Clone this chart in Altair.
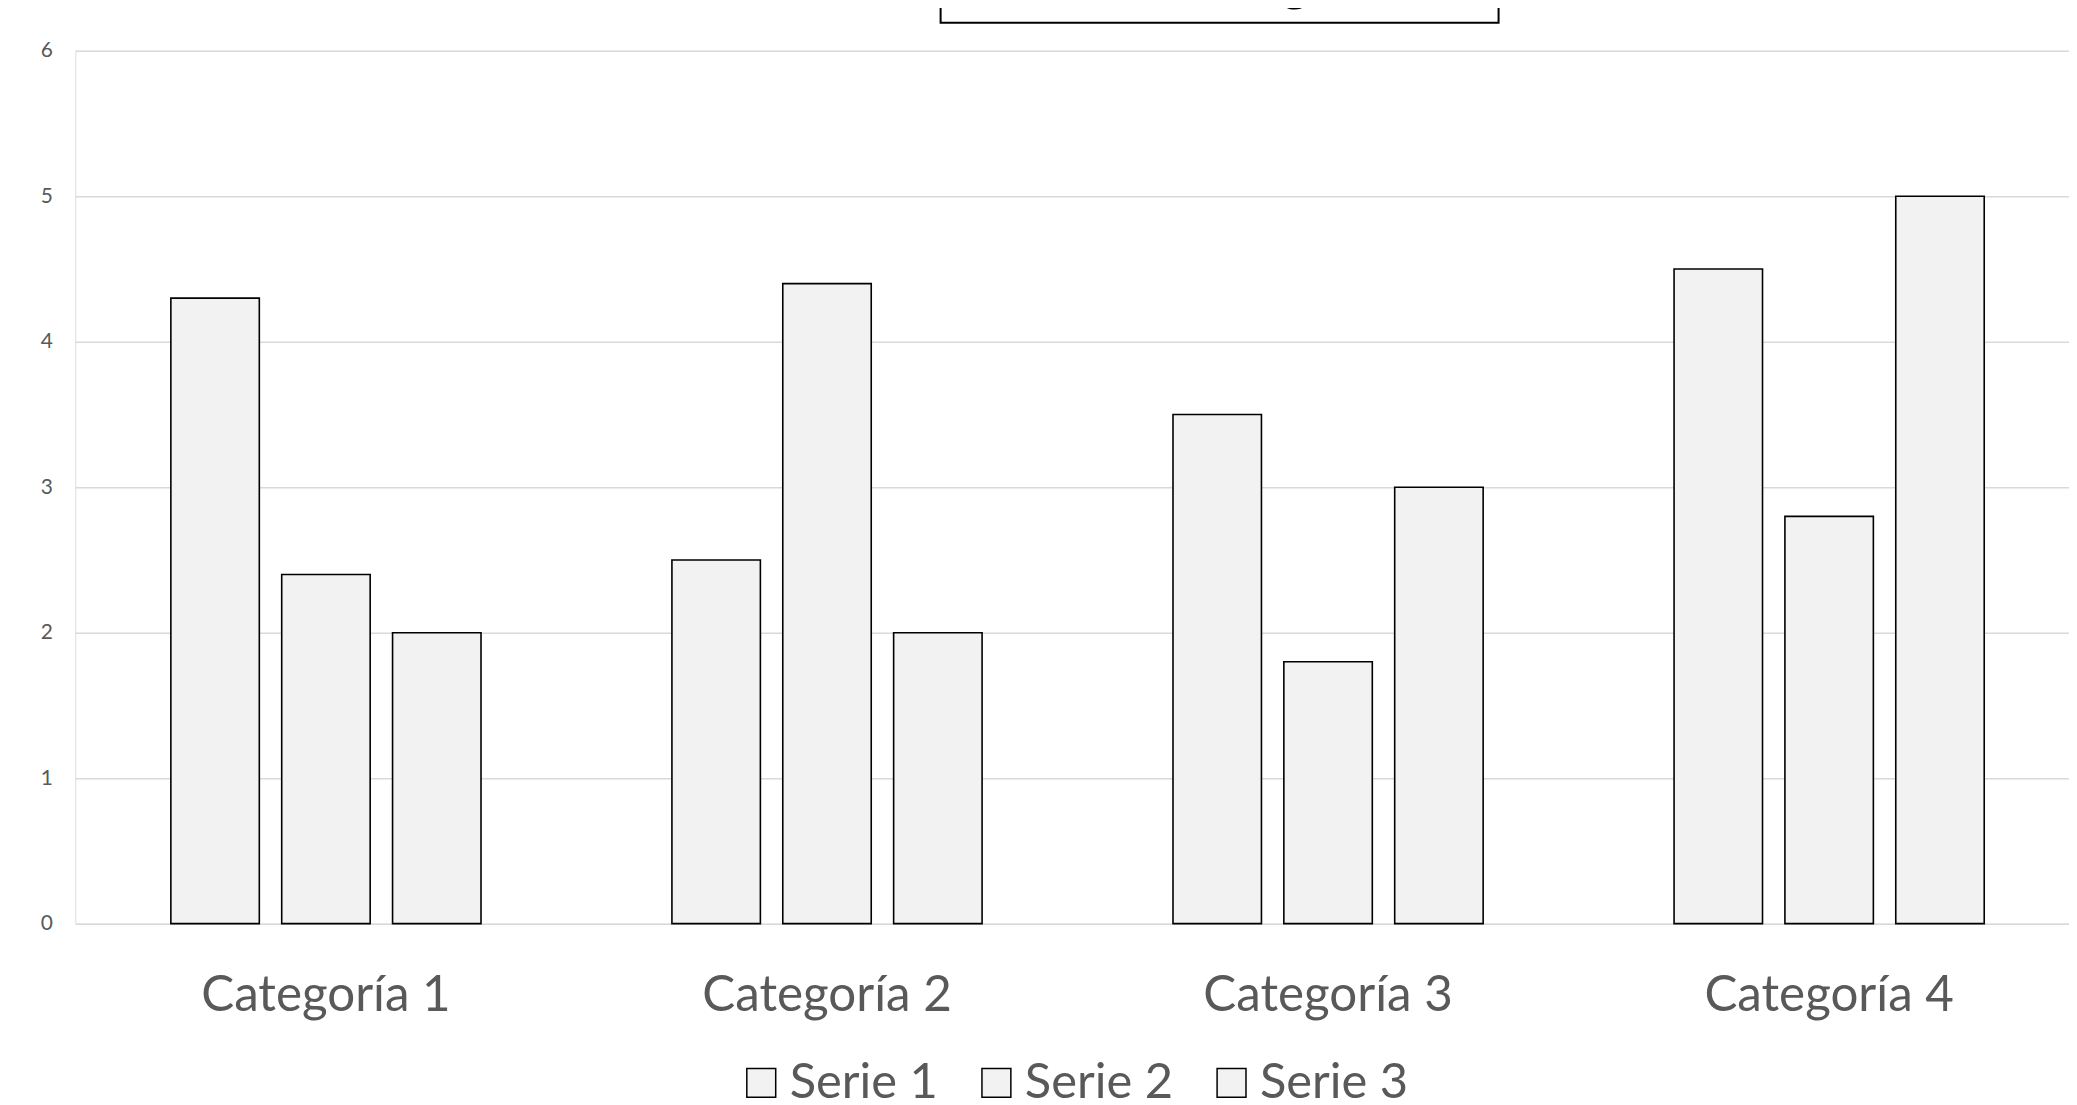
import altair as alt
import pandas as pd

categories = ["Categoría 1", "Categoría 2", "Categoría 3", "Categoría 4"]
series_names = ["Serie 1", "Serie 2", "Serie 3"]
serie1 = [4.3, 2.5, 3.5, 4.5]
serie2 = [2.4, 4.4, 1.8, 2.8]
serie3 = [2.0, 2.0, 3.0, 5.0]
y_ticks = [0, 1, 2, 3, 4, 5, 6]
title_text = "Título del gráfico"

rows = []
for i, c in enumerate(categories):
    for s, vals in zip(series_names, [serie1, serie2, serie3]):
        rows.append({"Categoría": c, "Serie": s, "Valor": vals[i]})
df = pd.DataFrame(rows)

FONT = "Lato"
GREY = "#595959"

bars = alt.Chart(df).mark_bar(stroke="black", strokeWidth=1.6).encode(
    x=alt.X(
        "Categoría:N",
        sort=categories,
        scale=alt.Scale(paddingInner=0.381, paddingOuter=0.18, align=0.53),
        axis=alt.Axis(
            title=None, labelAngle=0, domain=False, ticks=False, grid=False,
            labelFont=FONT, labelFontSize=49.5, labelColor=GREY, labelPadding=48,
            labelLimit=1000,
        ),
    ),
    xOffset=alt.XOffset(
        "Serie:N", sort=series_names,
        scale=alt.Scale(paddingInner=0.202, paddingOuter=0),
    ),
    y=alt.Y(
        "Valor:Q",
        scale=alt.Scale(domain=[0, 6], nice=False),
        axis=alt.Axis(
            values=y_ticks, title=None, grid=True, gridColor="#d9d9d9", gridWidth=1.5,
            domain=False, ticks=False, labelPadding=23, labelFontSize=21,
            labelColor=GREY, labelFont=FONT,
        ),
    ),
    color=alt.Color(
        "Serie:N",
        sort=series_names,
        scale=alt.Scale(domain=series_names, range=["#f2f2f2"] * 3),
        legend=alt.Legend(
            title=None, orient="none", legendX=664, legendY=1011,
            direction="horizontal", symbolType="square", symbolSize=841,
            symbolStrokeColor="black", symbolStrokeWidth=1.5,
            labelFont=FONT, labelFontSize=49, labelColor=GREY,
            labelOffset=4, columnPadding=34, padding=0, labelLimit=1000,
        ),
    ),
)

title_data = alt.Data(values=[{"t": title_text}])
frame = alt.Chart(title_data).mark_rect(fill="white", stroke="black", strokeWidth=2).encode(
    x=alt.value(868.5), x2=alt.value(1428.5), y=alt.value(-140), y2=alt.value(-28.3)
)
title = alt.Chart(title_data).mark_text(
    font=FONT, fontSize=56, baseline="alphabetic", align="center", color="black"
).encode(x=alt.value(1171.5), y=alt.value(-52), text="t:N")

chart = alt.layer(bars, frame, title).properties(
    width=2001,
    height=876,
    autosize=alt.AutoSizeParams(type="none"),
    padding={"left": 67.5, "top": 41, "right": 0, "bottom": 175},
).configure_view(stroke=None).configure(background="white")

chart.save("out.html", embed_options={"renderer": "svg", "actions": False})
